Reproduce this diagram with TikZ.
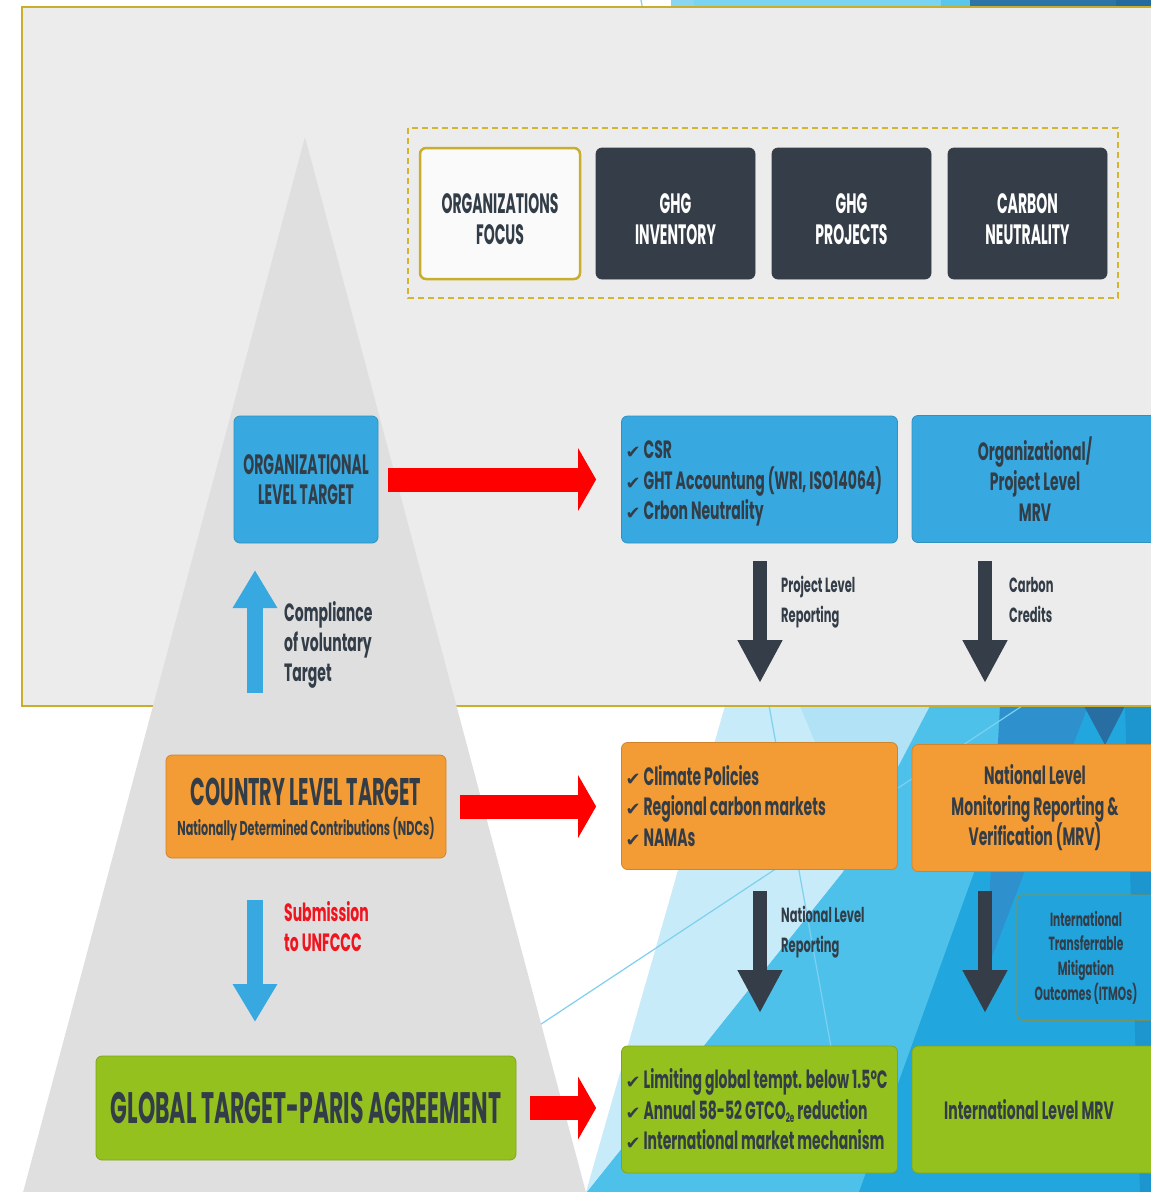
\documentclass[tikz,border=0pt]{standalone}
\usepackage{fontspec}
\setmainfont{Poppins}[FakeStretch=0.56]
\newfontfamily\capsf{Poppins}[FakeStretch=0.5]
\newfontfamily\symf{DejaVu Sans}
\usetikzlibrary{arrows.meta}
\definecolor{panel}{HTML}{ECECEC}
\definecolor{pyr}{HTML}{DFDFDF}
\definecolor{gold}{HTML}{C9AE2C}
\definecolor{dgold}{HTML}{D3B52E}
\definecolor{dk}{HTML}{333D47}
\definecolor{dkbox}{HTML}{353E48}
\definecolor{sky}{HTML}{38A9E0}
\definecolor{orng}{HTML}{F39B34}
\definecolor{grn}{HTML}{95C11F}
\definecolor{rd}{HTML}{FF0000}
\definecolor{rdtxt}{HTML}{F0141E}
\definecolor{itmo}{HTML}{22A3DC}
\definecolor{bga}{HTML}{8AD6F1}
\definecolor{bgb}{HTML}{7AD3F0}
\definecolor{bgc}{HTML}{5BC6EC}
\definecolor{bgd}{HTML}{2D75A7}
\definecolor{bge}{HTML}{236A9E}
\definecolor{bgf}{HTML}{C7EBF8}
\definecolor{bgg}{HTML}{B2E2F5}
\definecolor{bgh}{HTML}{4EC1EA}
\definecolor{bgi}{HTML}{22A6DE}
\definecolor{bgj}{HTML}{2E90CC}
\definecolor{bgk}{HTML}{286EA2}
\definecolor{bgl}{HTML}{1D95CE}
\definecolor{bgline}{HTML}{7DD0EF}
\newcommand{\mychk}{{\symf\fontsize{18pt}{18pt}\selectfont ✔}\hspace{3pt}}
\newcommand{\tallln}[2][32pt]{\raisebox{0pt}[#1]{#2}}
\tikzset{
  basebox/.style={rectangle, rounded corners=6pt, inner sep=0pt, line width=0.8pt},
  darkbox/.style={basebox, fill=dkbox, draw=dkbox, text=white, minimum width=159pt, minimum height=131pt,
     align=center, font=\capsf\bfseries\fontsize{28pt}{31pt}\selectfont},
  skybox/.style={basebox, fill=sky, draw=sky!85!black, text=dk},
  orbox/.style={basebox, fill=orng, draw=orng!85!black, text=dk},
  grbox/.style={basebox, fill=grn, draw=grn!85!black, text=dk},
  listbox/.style={minimum width=275pt, minimum height=127pt, text width=268pt, inner xsep=4pt, align=flush left,
     font=\bfseries\fontsize{25pt}{30.5pt}\selectfont},
  mrvbox/.style={minimum width=246pt, minimum height=127pt, align=center,
     font=\bfseries\fontsize{25pt}{30.5pt}\selectfont},
  redarr/.style={draw=rd, line width=24pt, -{Triangle[length=18pt,width=62pt]}},
  bluearr/.style={draw=sky, line width=16pt, -{Triangle[length=38pt,width=42pt]}},
  darkarr/.style={draw=dkbox, line width=14pt, -{Triangle[length=43pt,width=42pt]}},
  lbl/.style={anchor=west, align=left, text=dk, inner sep=0pt},
}
\begin{document}
\begin{tikzpicture}[x=1pt,y=-1pt]
\useasboundingbox (0,0) rectangle (1151,1192);
\begin{scope}
\clip (0,0) rectangle (1151,1192);
\fill[white] (0,0) rectangle (1151,1192);
% background polygons
\fill[bga] (671,0) rectangle (694,9);
\fill[bgb] (694,0) rectangle (941,9);
\fill[bgc] (941,0) rectangle (970,9);
\fill[bgd] (970,0) rectangle (1116,9);
\fill[bge] (1116,0) rectangle (1151,9);
\fill[bgf] (725,706) -- (1151,706) -- (1151,1192) -- (586,1192) -- cycle;
\fill[bgg] (800,706) -- (935,706) -- (860,850) -- cycle;
\fill[bgh] (930,706) -- (1151,706) -- (1151,1192) -- (587,1192) -- (703,1047) -- (843,872) -- cycle;
\fill[bgi] (1034,706) -- (1151,706) -- (1151,1192) -- (859,1192) -- cycle;
\fill[bgj] (1000,706) -- (1088,706) -- (985,975) -- cycle;
\fill[bgk] (1084,706) -- (1125,706) -- (1105,745) -- cycle;
\fill[bgl] (1125,706) -- (1151,706) -- (1151,1192) -- (1140,1192) -- cycle;
\draw[bgline, line width=1.2pt] (520,1038) -- (1022,706);
\draw[bgline, line width=1.2pt] (641,0) -- (831,1047);
% panel
\fill[panel] (22,7) rectangle (1160,706);
\draw[gold, line width=2.5pt] (1160,7) -- (22,7) -- (22,706) -- (1160,706);
% pyramid
\fill[pyr] (305,137) -- (588,1200) -- (21,1200) -- cycle;
% dashed frame
\draw[dgold, line width=2pt, dash pattern=on 6pt off 4pt] (408,128) rectangle (1118,298);

% top boxes
\node[basebox, fill=white!96!gray, draw=gold, line width=2.5pt, text=dk, minimum width=160pt, minimum height=131pt,
  align=center, font=\capsf\bfseries\fontsize{28pt}{31pt}\selectfont] (focus) at (500,213.5) {\tallln{ORGANIZATIONS}\\FOCUS};
\node[darkbox] (inv) at (675.5,213.5) {\tallln{GHG}\\INVENTORY};
\node[darkbox] (proj) at (851.5,213.5) {\tallln{GHG}\\PROJECTS};
\node[darkbox] (neut) at (1027.5,213.5) {\tallln{CARBON}\\NEUTRALITY};

% level 1
\node[skybox, minimum width=144pt, minimum height=127pt, align=center,
  font=\capsf\bfseries\fontsize{28pt}{30pt}\selectfont] (orgt) at (306,479.5) {ORGANIZATIONAL\\LEVEL TARGET};
\node[skybox, listbox] (csr) at (759.5,479.5) {\rule{0pt}{26pt}\mychk CSR\\\mychk GHT Accountung (WRI, ISO14064)\\\mychk Crbon Neutrality};
\node[skybox, mrvbox] (omrv) at (1035,479) {Organizational/\\Project Level\\MRV};

% level 2
\node[orbox, minimum width=280pt, minimum height=103pt, align=center, font=\fontsize{20pt}{30pt}\selectfont] (country) at (306,806.5)
  {{\capsf\bfseries\fontsize{38.5pt}{30pt}\selectfont \tallln[34pt]{COUNTRY LEVEL TARGET}}\\
   {\bfseries\fontsize{20pt}{30pt}\selectfont Nationally Determined Contributions (NDCs)}};
\node[orbox, listbox] (clim) at (759.5,806) {\mychk Climate Policies\\\mychk Regional carbon markets\\\mychk NAMAs};
\node[orbox, mrvbox] (nmrv) at (1035,808) {National Level\\Monitoring Reporting \&\\Verification (MRV)};

% ITMOs
\node[basebox, fill=itmo, draw=gold!80!black, line width=1pt, text=dk, minimum width=138pt, minimum height=125pt,
  align=center, font=\bfseries\fontsize{19pt}{24.7pt}\selectfont] (itmos) at (1086,957.5)
  {International\\Transferrable\\Mitigation\\Outcomes (ITMOs)};

% level 3
\node[grbox, minimum width=420pt, minimum height=104pt, font=\capsf\bfseries\fontsize{44pt}{46pt}\selectfont] (glob) at (306,1108)
  {GLOBAL TARGET-PARIS AGREEMENT};
\node[grbox, listbox] (lim) at (759.5,1109.5)
  {\mychk Limiting global tempt. below 1.5ºC\\\mychk Annual 58-52 GTCO\raisebox{-3pt}{\fontsize{13pt}{13pt}\selectfont 2e} reduction\\\mychk International market mechanism};
\node[grbox, minimum width=246pt, minimum height=127pt, font=\bfseries\fontsize{25pt}{30.5pt}\selectfont] (imrv) at (1035,1109.5)
  {\hspace*{-12pt}International Level MRV};

% red arrows
\draw[redarr] ([xshift=10pt]orgt.east) -- ([xshift=-25pt]orgt.east -| csr.west);
\draw[redarr] ([xshift=14pt]country.east) -- ([xshift=-25pt]country.east -| clim.west);
\draw[redarr] ([xshift=14pt]glob.east) -- ([xshift=-25pt]glob.east -| lim.west);

% blue arrows
\coordinate (ups) at (255,693);
\coordinate (upe) at (255,570);
\coordinate (dns) at (255,900);
\coordinate (dne) at (255,1022);
\draw[bluearr] (ups) -- (upe);
\draw[bluearr] (dns) -- (dne);
\node[lbl, font=\bfseries\fontsize{25pt}{30pt}\selectfont] (compl) at (284,645) {Compliance\\of voluntary\\Target};
\node[lbl, text=rdtxt, font=\bfseries\fontsize{25pt}{30pt}\selectfont] (subm) at (284,927) {Submission\\to UNFCCC};

% dark arrows
\coordinate (a1s) at (760,561);  \coordinate (a1e) at (760,683);
\coordinate (a2s) at (985,561);  \coordinate (a2e) at (985,683);
\coordinate (a3s) at (760,891);  \coordinate (a3e) at (760,1013);
\coordinate (a4s) at (985,891);  \coordinate (a4e) at (985,1013);
\draw[darkarr] (a1s) -- (a1e);
\draw[darkarr] (a2s) -- (a2e);
\draw[darkarr] (a3s) -- (a3e);
\draw[darkarr] (a4s) -- (a4e);
\node[lbl, font=\bfseries\fontsize{20.5pt}{30pt}\selectfont] (plr) at (781,602) {Project Level\\Reporting};
\node[lbl, font=\bfseries\fontsize{20.5pt}{30pt}\selectfont] (cc) at (1009,600) {Carbon\\Credits};
\node[lbl, font=\bfseries\fontsize{20.5pt}{30pt}\selectfont] (nlr) at (781,932) {National Level\\Reporting};
\end{scope}
\end{tikzpicture}
\end{document}
